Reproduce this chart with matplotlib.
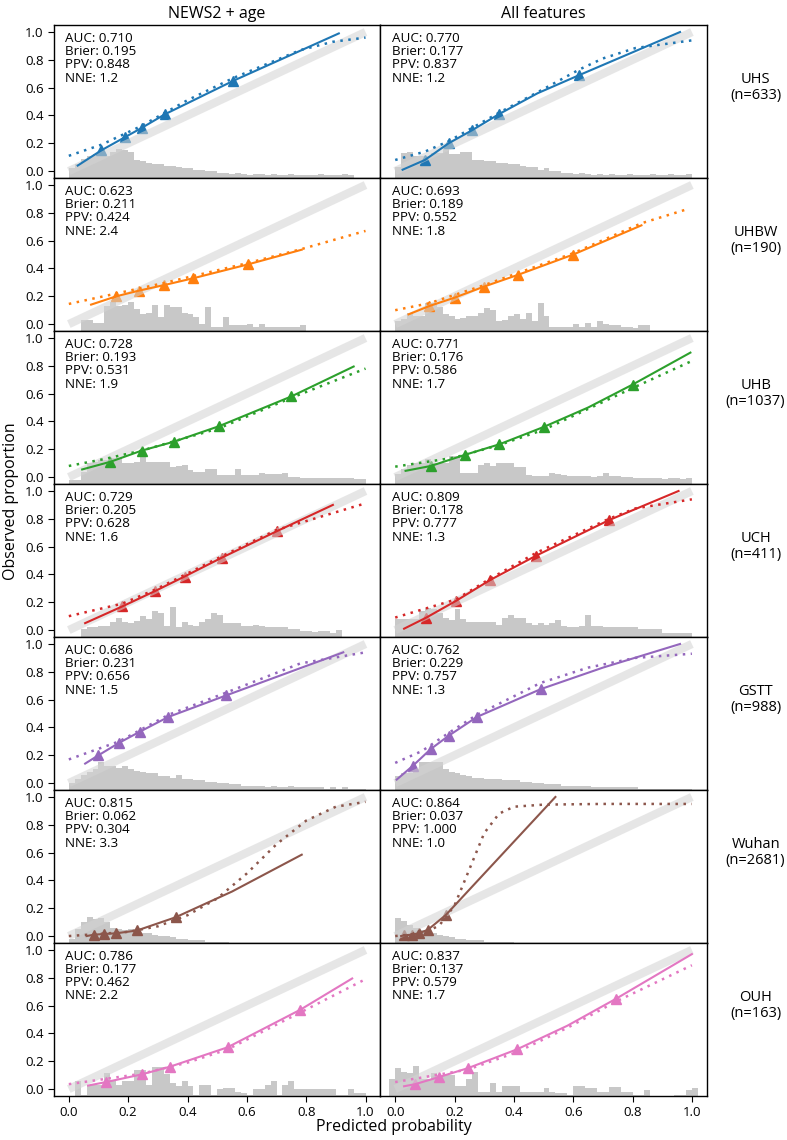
import matplotlib
matplotlib.use("Agg")
import matplotlib.pyplot as plt

plt.rcParams["font.family"] = ["Open Sans", "DejaVu Sans"]

# ---- data -------------------------------------------------------------
sites = ["UHS", "UHBW", "UHB", "UCH", "GSTT", "Wuhan", "OUH"]
site_n = [633, 190, 1037, 411, 988, 2681, 163]
models = ["NEWS2 + age", "All features"]
colors = ["#1f77b4", "#ff7f0e", "#2ca02c", "#d62728", "#9467bd", "#8c564b", "#e377c2"]

# metrics [site][model]
auc = [[0.710, 0.770], [0.623, 0.693], [0.728, 0.771], [0.729, 0.809],
       [0.686, 0.762], [0.815, 0.864], [0.786, 0.837]]
brier = [[0.195, 0.177], [0.211, 0.189], [0.193, 0.176], [0.205, 0.178],
         [0.231, 0.229], [0.062, 0.037], [0.177, 0.137]]
ppv = [[0.848, 0.837], [0.424, 0.552], [0.531, 0.586], [0.628, 0.777],
       [0.656, 0.757], [0.304, 1.000], [0.462, 0.579]]
nne = [[1.2, 1.2], [2.4, 1.8], [1.9, 1.7], [1.6, 1.3],
       [1.5, 1.3], [3.3, 1.0], [2.2, 1.7]]

# binned observed proportions (triangles), NEWS2 + age
news2_bin_x = [[0.11, 0.19, 0.245, 0.325, 0.555],
               [0.16, 0.235, 0.32, 0.42, 0.605],
               [0.14, 0.245, 0.355, 0.505, 0.75],
               [0.18, 0.29, 0.39, 0.515, 0.70],
               [0.10, 0.17, 0.24, 0.335, 0.53],
               [0.085, 0.12, 0.16, 0.23, 0.36],
               [0.125, 0.245, 0.34, 0.535, 0.78]]
news2_bin_y = [[0.15, 0.245, 0.31, 0.41, 0.65],
               [0.20, 0.24, 0.28, 0.33, 0.43],
               [0.11, 0.19, 0.255, 0.365, 0.58],
               [0.17, 0.28, 0.385, 0.52, 0.71],
               [0.20, 0.29, 0.37, 0.475, 0.63],
               [0.01, 0.015, 0.02, 0.04, 0.135],
               [0.05, 0.105, 0.16, 0.30, 0.57]]
# smoothed calibration (solid)
news2_smooth_x = [[0.03, 0.11, 0.19, 0.245, 0.325, 0.555, 0.91],
                  [0.075, 0.16, 0.235, 0.32, 0.42, 0.605, 0.785],
                  [0.045, 0.14, 0.245, 0.355, 0.505, 0.75, 0.96],
                  [0.055, 0.18, 0.29, 0.39, 0.515, 0.70, 0.89],
                  [0.055, 0.10, 0.17, 0.24, 0.335, 0.53, 0.925],
                  [0.06, 0.085, 0.12, 0.16, 0.23, 0.36, 0.55, 0.785],
                  [0.065, 0.125, 0.245, 0.34, 0.535, 0.78, 0.955]]
news2_smooth_y = [[0.04, 0.15, 0.245, 0.31, 0.41, 0.65, 0.99],
                  [0.14, 0.20, 0.24, 0.28, 0.33, 0.43, 0.535],
                  [0.055, 0.11, 0.19, 0.255, 0.365, 0.58, 0.795],
                  [0.05, 0.17, 0.28, 0.385, 0.52, 0.71, 0.90],
                  [0.14, 0.20, 0.29, 0.37, 0.475, 0.63, 0.94],
                  [0.0, 0.01, 0.015, 0.02, 0.04, 0.135, 0.32, 0.585],
                  [0.025, 0.05, 0.105, 0.16, 0.30, 0.57, 0.795]]
# logistic calibration fit (dotted)
news2_fit_x = [[0.0, 0.11, 0.24, 0.40, 0.555, 0.78, 0.89, 1.0],
               [0.0, 0.16, 0.32, 0.605, 0.785, 1.0],
               [0.0, 0.12, 0.245, 0.505, 0.75, 1.0],
               [0.0, 0.18, 0.29, 0.515, 0.70, 0.99],
               [0.0, 0.17, 0.335, 0.53, 0.78, 1.0],
               [0.0, 0.2, 0.3, 0.4, 0.5, 0.6, 0.7, 0.8, 0.9, 1.0],
               [0.0, 0.245, 0.4, 0.535, 0.78, 1.0]]
news2_fit_y = [[0.11, 0.19, 0.32, 0.51, 0.67, 0.87, 0.93, 0.96],
               [0.145, 0.22, 0.295, 0.44, 0.54, 0.67],
               [0.08, 0.13, 0.19, 0.35, 0.57, 0.78],
               [0.10, 0.19, 0.29, 0.53, 0.72, 0.905],
               [0.17, 0.30, 0.49, 0.65, 0.86, 0.94],
               [0.0, 0.03, 0.07, 0.15, 0.27, 0.45, 0.66, 0.83, 0.93, 0.965],
               [0.035, 0.11, 0.19, 0.285, 0.55, 0.79]]

# All features
allf_bin_x = [[0.10, 0.18, 0.26, 0.35, 0.62],
              [0.115, 0.20, 0.30, 0.415, 0.60],
              [0.12, 0.235, 0.35, 0.50, 0.80],
              [0.105, 0.205, 0.32, 0.475, 0.72],
              [0.06, 0.12, 0.18, 0.275, 0.49],
              [0.03, 0.055, 0.08, 0.11, 0.17],
              [0.067, 0.146, 0.245, 0.41, 0.745]]
allf_bin_y = [[0.08, 0.20, 0.295, 0.41, 0.69],
              [0.13, 0.19, 0.27, 0.355, 0.50],
              [0.08, 0.16, 0.235, 0.36, 0.665],
              [0.09, 0.21, 0.36, 0.535, 0.79],
              [0.125, 0.245, 0.34, 0.475, 0.675],
              [0.005, 0.01, 0.02, 0.045, 0.15],
              [0.035, 0.085, 0.15, 0.285, 0.65]]
allf_smooth_x = [[0.025, 0.10, 0.18, 0.26, 0.35, 0.48, 0.62, 0.96],
                 [0.045, 0.115, 0.20, 0.30, 0.415, 0.60, 0.83],
                 [0.035, 0.12, 0.235, 0.35, 0.50, 0.65, 0.80, 0.995],
                 [0.03, 0.105, 0.205, 0.32, 0.475, 0.72, 0.955],
                 [0.005, 0.06, 0.12, 0.18, 0.275, 0.49, 0.70, 0.96],
                 [0.02, 0.03, 0.055, 0.08, 0.11, 0.17, 0.54],
                 [0.03, 0.067, 0.146, 0.245, 0.41, 0.58, 0.745, 1.0]]
allf_smooth_y = [[0.01, 0.08, 0.20, 0.295, 0.41, 0.56, 0.69, 1.0],
                 [0.07, 0.13, 0.19, 0.27, 0.355, 0.50, 0.71],
                 [0.045, 0.08, 0.16, 0.235, 0.36, 0.50, 0.665, 0.895],
                 [0.01, 0.09, 0.21, 0.36, 0.535, 0.79, 1.0],
                 [0.025, 0.125, 0.245, 0.34, 0.475, 0.675, 0.83, 1.0],
                 [0.0, 0.005, 0.01, 0.02, 0.045, 0.15, 1.0],
                 [0.02, 0.035, 0.085, 0.15, 0.285, 0.455, 0.65, 0.97]]
allf_fit_x = [[0.0, 0.10, 0.18, 0.35, 0.50, 0.62, 0.70, 0.81, 1.0],
              [0.0, 0.115, 0.30, 0.60, 0.83, 0.99],
              [0.0, 0.20, 0.35, 0.50, 0.80, 1.0],
              [0.0, 0.205, 0.32, 0.475, 0.72, 0.81, 1.0],
              [0.0, 0.09, 0.18, 0.275, 0.49, 0.65, 0.81, 1.0],
              [0.0, 0.1, 0.15, 0.2, 0.25, 0.3, 0.35, 0.4, 0.5, 0.7, 1.0],
              [0.0, 0.245, 0.41, 0.58, 0.745, 1.0]]
allf_fit_y = [[0.08, 0.14, 0.215, 0.42, 0.59, 0.73, 0.81, 0.885, 0.94],
              [0.10, 0.15, 0.28, 0.51, 0.725, 0.83],
              [0.075, 0.14, 0.23, 0.34, 0.64, 0.835],
              [0.09, 0.22, 0.37, 0.555, 0.80, 0.875, 0.94],
              [0.145, 0.23, 0.36, 0.49, 0.72, 0.83, 0.90, 0.93],
              [0.0, 0.02, 0.08, 0.22, 0.48, 0.74, 0.88, 0.93, 0.945, 0.95, 0.95],
              [0.05, 0.14, 0.265, 0.44, 0.63, 0.89]]

# histograms of predicted probability (bin width 0.02), scaled heights
hist_width = 0.02
news2_hist_start = [0.0, 0.0, 0.0, 0.0, 0.0, 0.0, 0.0]
allf_hist_start = [0.0, 0.0, 0.0, 0.0, 0.0, 0.0, -0.02]
news2_hist = [
    [0.07, 0.10, 0.14, 0.16, 0.17, 0.16, 0.16, 0.19, 0.21, 0.20, 0.19, 0.13, 0.12, 0.11, 0.10, 0.10, 0.09,
     0.085, 0.08, 0.07, 0.07, 0.06, 0.06, 0.05, 0.05, 0.04, 0.04, 0.03, 0.04, 0.03, 0.02, 0.03, 0.03, 0.02,
     0.03, 0.02, 0.02, 0.03, 0.02, 0.02, 0.02, 0.02, 0.03, 0.02, 0.02, 0.02, 0.03, 0.02, 0.0, 0.0],
    [0, 0, 0.08, 0.08, 0.06, 0.06, 0.18, 0.21, 0.18, 0.19, 0.21, 0.16, 0.12, 0.13, 0.19, 0.10, 0.19, 0.17,
     0.17, 0.13, 0.12, 0.10, 0.05, 0.17, 0.03, 0.03, 0.10, 0.04, 0.04, 0.04, 0.05, 0.03, 0.05, 0.03, 0.03,
     0.03, 0.03, 0.03, 0.03, 0.04],
    [0.03, 0.03, 0.09, 0.15, 0.16, 0.17, 0.17, 0.185, 0.185, 0.15, 0.15, 0.155, 0.22, 0.16, 0.16, 0.16, 0.155,
     0.12, 0.13, 0.14, 0.10, 0.09, 0.09, 0.11, 0.11, 0.065, 0.065, 0.065, 0.11, 0.065, 0.065, 0.065, 0.08,
     0.075, 0.075, 0.075, 0.08, 0.05, 0.05, 0.04, 0.04, 0.04, 0.04, 0.04, 0.04, 0.04, 0.04, 0.04, 0.035, 0.035],
    [0, 0, 0.06, 0.07, 0.07, 0.08, 0.08, 0.11, 0.14, 0.11, 0.10, 0.115, 0.15, 0.13, 0.19, 0.17, 0.08, 0.215,
     0.07, 0.11, 0.085, 0.08, 0.11, 0.13, 0.17, 0.155, 0.10, 0.10, 0.10, 0.08, 0.08, 0.09, 0.08, 0.075, 0.075,
     0.07, 0.075, 0.055, 0.055, 0.04, 0.04, 0.035, 0.04, 0.04, 0.03, 0.05],
    [0.05, 0.08, 0.11, 0.13, 0.15, 0.205, 0.17, 0.17, 0.16, 0.17, 0.15, 0.14, 0.13, 0.12, 0.12, 0.10, 0.10,
     0.09, 0.11, 0.08, 0.08, 0.07, 0.07, 0.06, 0.06, 0.05, 0.05, 0.04, 0.04, 0.03, 0.03, 0.03, 0.03, 0.02,
     0.03, 0.02, 0.02, 0.03, 0.02, 0.02, 0.02, 0.02, 0.02, 0.01, 0.02, 0.01, 0.02, 0.01, 0.01, 0.01],
    [0.03, 0.10, 0.15, 0.19, 0.17, 0.18, 0.15, 0.11, 0.10, 0.09, 0.10, 0.08, 0.07, 0.07, 0.06, 0.05, 0.05,
     0.04, 0.03, 0.03, 0.02, 0.02, 0.02, 0.01, 0.01, 0.01, 0.01],
    [0, 0.105, 0.01, 0.08, 0.08, 0.08, 0.165, 0.105, 0.08, 0.105, 0.105, 0.19, 0.19, 0.08, 0.21, 0.21, 0.16,
     0.09, 0.07, 0.105, 0.07, 0.01, 0.08, 0.08, 0.01, 0.05, 0.06, 0.06, 0.03, 0.02, 0.01, 0.05, 0.05, 0.08,
     0.105, 0.01, 0.08, 0.105, 0.05, 0.05, 0.05, 0.05, 0.05, 0.05, 0.05, 0.01, 0.01, 0.05, 0.02, 0.02],
]
allf_hist = [
    [0.08, 0.18, 0.19, 0.16, 0.16, 0.16, 0.18, 0.18, 0.22, 0.17, 0.17, 0.19, 0.19, 0.13, 0.13, 0.12, 0.12,
     0.11, 0.11, 0.10, 0.10, 0.09, 0.08, 0.08, 0.06, 0.07, 0.05, 0.05, 0.04, 0.04, 0.03, 0.04, 0.03, 0.02,
     0.03, 0.02, 0.03, 0.02, 0.02, 0.03, 0.02, 0.02, 0.02, 0.03, 0.02, 0.02, 0.03, 0.02, 0.02, 0.03],
    [0.07, 0.09, 0.13, 0.105, 0.105, 0.20, 0.205, 0.17, 0.12, 0.105, 0.09, 0.095, 0.105, 0.11, 0.13, 0.165,
     0.15, 0.07, 0.08, 0.105, 0.12, 0.085, 0.13, 0.07, 0.205, 0.105, 0.03, 0.03, 0.03, 0.03, 0.05, 0.03, 0.06,
     0.03, 0.07, 0.05, 0.04, 0.04, 0.03, 0.03, 0.02, 0.04, 0.04],
    [0.07, 0.11, 0.14, 0.15, 0.15, 0.18, 0.15, 0.15, 0.15, 0.20, 0.20, 0.08, 0.08, 0.08, 0.14, 0.15, 0.13,
     0.15, 0.15, 0.15, 0.125, 0.125, 0.065, 0.06, 0.055, 0.06, 0.08, 0.07, 0.065, 0.06, 0.06, 0.055, 0.055,
     0.05, 0.055, 0.08, 0.055, 0.055, 0.05, 0.05, 0.045, 0.04, 0.04, 0.04, 0.04, 0.035, 0.04, 0.04, 0.035, 0.04],
    [0.13, 0.13, 0.13, 0.13, 0.19, 0.21, 0.20, 0.17, 0.14, 0.125, 0.20, 0.13, 0.11, 0.11, 0.11, 0.11, 0.11,
     0.09, 0.14, 0.155, 0.14, 0.14, 0.10, 0.09, 0.10, 0.09, 0.10, 0.12, 0.08, 0.075, 0.075, 0.08, 0.155, 0.08,
     0.08, 0.075, 0.075, 0.075, 0.075, 0.075, 0.075, 0.06, 0.06, 0.06, 0.06, 0.03, 0.03, 0.03, 0.03, 0.03],
    [0.10, 0.12, 0.12, 0.15, 0.20, 0.20, 0.20, 0.20, 0.15, 0.13, 0.12, 0.11, 0.10, 0.09, 0.09, 0.08, 0.08,
     0.08, 0.07, 0.07, 0.07, 0.06, 0.06, 0.05, 0.05, 0.04, 0.04, 0.04, 0.03, 0.03, 0.03, 0.03, 0.03, 0.02,
     0.02, 0.02, 0.02, 0.02, 0.02, 0.02, 0.02, 0.01, 0.01, 0.01, 0.01, 0.01, 0.01, 0.01, 0.01, 0.01],
    [0.18, 0.16, 0.13, 0.11, 0.09, 0.08, 0.07, 0.06, 0.05, 0.04, 0.03, 0.03, 0.02, 0.02, 0.02, 0.01, 0.01,
     0.01, 0.01, 0.01],
    [0.12, 0.20, 0.17, 0.165, 0.215, 0.12, 0.12, 0.165, 0.14, 0.15, 0.15, 0.07, 0.07, 0.12, 0.17, 0.03, 0.03,
     0.095, 0.03, 0.075, 0.075, 0.075, 0.03, 0.03, 0.03, 0.03, 0.055, 0.03, 0.02, 0.02, 0.01, 0.075, 0.075,
     0.055, 0.06, 0.03, 0.03, 0.065, 0.065, 0.03, 0.03, 0.01, 0.01, 0.04, 0, 0, 0, 0, 0.01, 0.01, 0.04, 0.055],
]

columns = [
    (news2_bin_x, news2_bin_y, news2_smooth_x, news2_smooth_y, news2_fit_x, news2_fit_y,
     news2_hist, news2_hist_start),
    (allf_bin_x, allf_bin_y, allf_smooth_x, allf_smooth_y, allf_fit_x, allf_fit_y,
     allf_hist, allf_hist_start),
]

# ---- figure -----------------------------------------------------------
fig, axes = plt.subplots(7, 2, figsize=(7.87, 11.4), dpi=100, sharex=True, sharey=True)
fig.subplots_adjust(left=0.0686, right=0.898, top=0.978, bottom=0.0386, hspace=0, wspace=0)

ymin, ymax = -0.05, 1.05

for r, site in enumerate(sites):
    col = colors[r]
    for c in range(2):
        ax = axes[r, c]
        bx, by, sx, sy, fx, fy, hist, hstart = columns[c]
        heights = hist[r]
        edges = [hstart[r] + hist_width * i for i in range(len(heights))]
        ax.bar(edges, heights, width=hist_width, align="edge", bottom=ymin,
               color="#c8c8c8", linewidth=0, zorder=1)
        ax.plot(bx[r], by[r], linestyle="none", marker="^", markersize=7.5,
                color=col, zorder=2)
        ax.plot([0, 1], [0, 1], color="lightgray", linewidth=6, alpha=0.55,
                solid_capstyle="butt", zorder=3)
        ax.plot(sx[r], sy[r], color=col, linewidth=1.5, zorder=4)
        ax.plot(fx[r], fy[r], color=col, linewidth=1.8, linestyle=(0, (1, 2.2)), zorder=4)

        ax.text(0.035, 0.955,
                f"AUC: {auc[r][c]:.3f}\nBrier: {brier[r][c]:.3f}\nPPV: {ppv[r][c]:.3f}\nNNE: {nne[r][c]:.1f}",
                transform=ax.transAxes, ha="left", va="top", fontsize=9.6, linespacing=1.02)

        ax.set_xlim(-0.05, 1.05)
        ax.set_ylim(ymin, ymax)
        ax.set_xticks([0, 0.2, 0.4, 0.6, 0.8, 1.0])
        ax.set_yticks([0, 0.2, 0.4, 0.6, 0.8, 1.0])
        ax.tick_params(labelsize=9.5, bottom=(r == 6), left=(c == 0), length=4)
        for sp in ax.spines.values():
            sp.set_linewidth(1.0)

        if r == 0:
            ax.set_title(models[c], fontsize=11.5, pad=5)
        if c == 1:
            ax.text(1.15, 0.59, f"{site}\n(n={site_n[r]})", transform=ax.transAxes,
                    ha="center", va="center", fontsize=10.5, linespacing=1.1)

for ax in axes[:, 0]:
    ax.yaxis.set_major_formatter(plt.FormatStrFormatter("%.1f"))
for ax in axes[-1, :]:
    ax.xaxis.set_major_formatter(plt.FormatStrFormatter("%.1f"))

fig.text(0.5, 0.011, "Predicted probability", ha="center", va="center", fontsize=11.5)
fig.text(0.014, 0.56, "Observed proportion", ha="center", va="center", rotation=90, fontsize=11.5)

fig.savefig("out.png", dpi=100)
